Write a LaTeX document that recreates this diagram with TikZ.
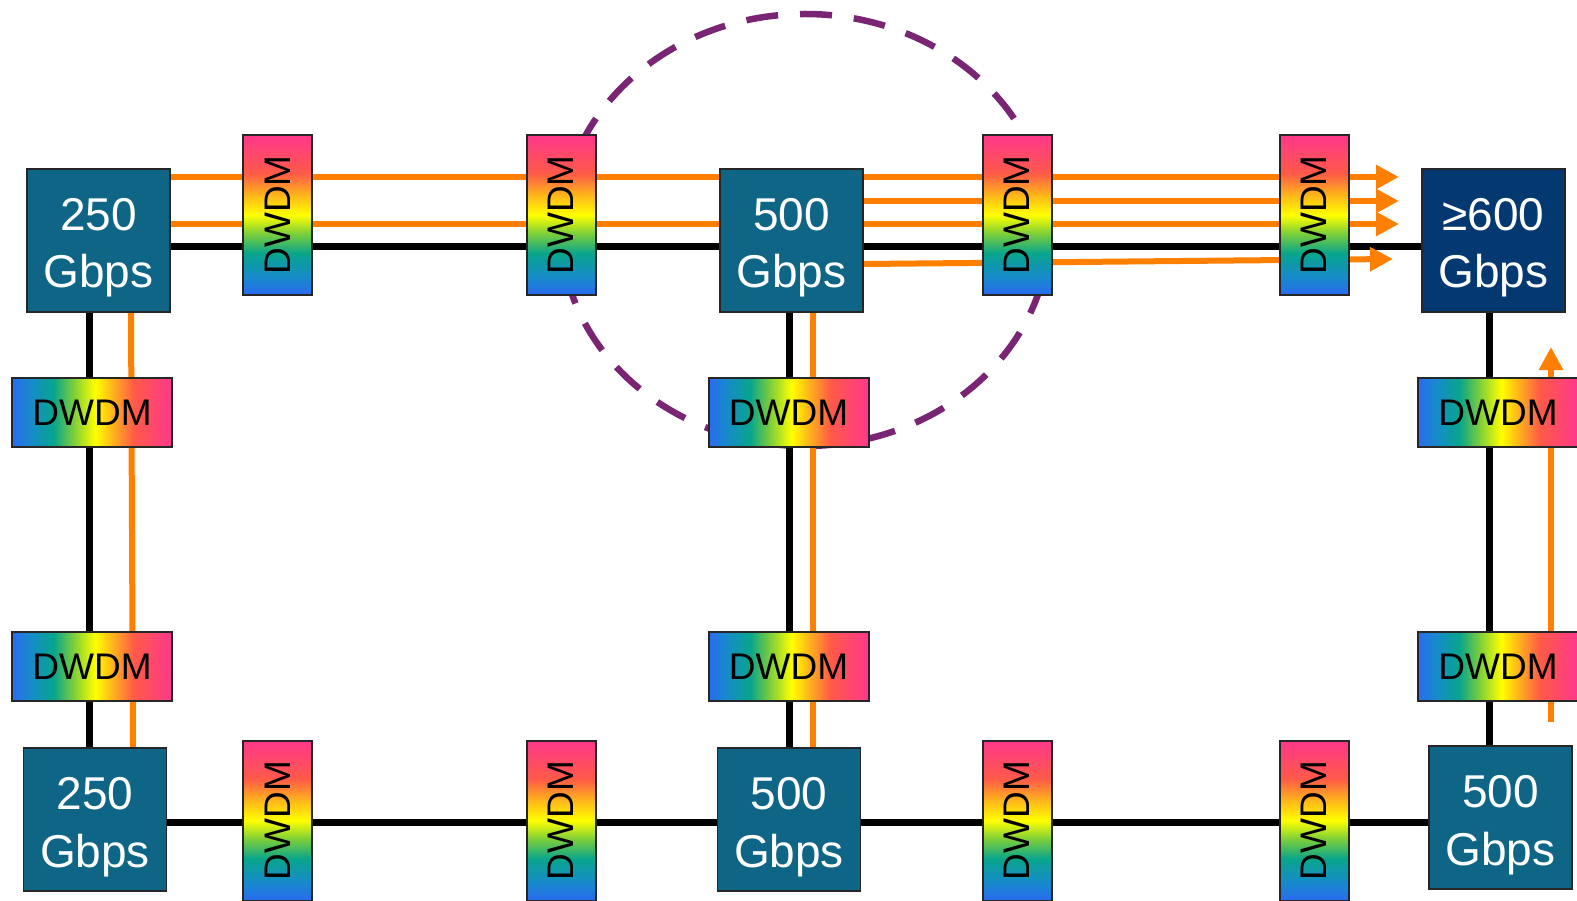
\documentclass[tikz,border=0pt]{standalone}
\usepackage{fontspec}
\setmainfont{Liberation Sans}
\usetikzlibrary{arrows.meta,backgrounds}
\definecolor{rtr}{RGB}{14,101,133}
\definecolor{rtrdark}{RGB}{3,56,112}
\definecolor{orng}{RGB}{255,128,0}
\definecolor{purp}{RGB}{122,37,115}
\definecolor{dblue}{RGB}{42,107,240}
\definecolor{dtb}{RGB}{22,140,200}
\definecolor{dteal}{RGB}{8,165,140}
\definecolor{dgreen}{RGB}{120,205,60}
\definecolor{dyel}{RGB}{255,255,0}
\definecolor{dorange}{RGB}{255,185,25}
\definecolor{dred}{RGB}{255,90,72}
\definecolor{dpink}{RGB}{255,55,140}
\pgfdeclarehorizontalshading{dwdmH}{100bp}{color(0bp)=(dblue); color(25bp)=(dblue); color(31bp)=(dtb); color(38bp)=(dteal); color(44bp)=(dgreen); color(51bp)=(dyel); color(56bp)=(dorange); color(63bp)=(dred); color(75bp)=(dpink); color(100bp)=(dpink)}
\pgfdeclareverticalshading{dwdmV}{100bp}{color(0bp)=(dblue); color(25bp)=(dblue); color(31bp)=(dtb); color(38bp)=(dteal); color(44bp)=(dgreen); color(50bp)=(dyel); color(56bp)=(dorange); color(63bp)=(dred); color(75bp)=(dpink); color(100bp)=(dpink)}
\tikzset{
  router/.style={draw=black!85, line width=1.6pt, fill=rtr, text=white,
    minimum width=143pt, minimum height=143pt, inner sep=0pt,
    text height=100pt, text depth=5pt, font=\fontsize{46}{58}\selectfont},
  dwdm/.style={draw=black!85, line width=2pt, shading=dwdmH,
    minimum width=160pt, minimum height=69pt, inner sep=0pt,
    font=\fontsize{37}{44}\selectfont},
  dwdmv/.style={dwdm, shading=dwdmV, rotate=90},
  wire/.style={line width=7pt, black},
  fib/.style={line width=6pt, orng},
  fibarrow/.style={fib, -{Triangle[length=23pt,width=23pt]}},
  ring/.style={purp, line width=6.5pt, dash pattern=on 32pt off 22pt},
}
\newcommand{\rtext}[2]{\begin{tabular}[b]{@{}c@{}}#1\\#2\end{tabular}}
\begin{document}
\begin{tikzpicture}[x=1pt,y=-1pt]
\useasboundingbox (0,0) rectangle (1577,901);
% routers
\node[router] (TL) at (98.5,240.5) {\rtext{250}{Gbps}};
\node[router] (TM) at (791.5,240.5) {\rtext{500}{Gbps}};
\node[router,fill=rtrdark] (TR) at (1493.5,240.5) {\rtext{≥600}{Gbps}};
\node[router] (BL) at (95,819.5) {\rtext{250}{Gbps}};
\node[router] (BM) at (789,819.5) {\rtext{500}{Gbps}};
\node[router] (BR) at (1500.5,817.5) {\rtext{500}{Gbps}};
% horizontal DWDM boxes (vertical links)
\node[dwdm] (L1) at (92,412.5) {DWDM};
\node[dwdm] (L2) at (92,666.5) {DWDM};
\node[dwdm] (M1) at (788.5,412.5) {DWDM};
\node[dwdm] (M2) at (788.5,666.5) {DWDM};
\node[dwdm] (R1) at (1498,412.5) {DWDM};
\node[dwdm] (R2) at (1498,666.5) {DWDM};
% vertical DWDM boxes (horizontal links)
\node[dwdmv] (T1) at (277.5,215) {DWDM};
\node[dwdmv] (T2) at (561,215) {DWDM};
\node[dwdmv] (T3) at (1017,215) {DWDM};
\node[dwdmv] (T4) at (1314,215) {DWDM};
\node[dwdmv] (B1) at (277.5,820.5) {DWDM};
\node[dwdmv] (B2) at (561,820.5) {DWDM};
\node[dwdmv] (B3) at (1017,820.5) {DWDM};
\node[dwdmv] (B4) at (1314,820.5) {DWDM};
% free ends
\coordinate (a1) at (1399,177);
\coordinate (a2) at (1399,224);
\coordinate (a3) at (1399,201);
\coordinate (a4) at (1393,259);
\coordinate (r0) at (1551,722);
\coordinate (r1) at (1551,347);
\coordinate (ringc) at (805,230);
\begin{pgfonlayer}{background}
  \draw[ring] (ringc) ellipse [x radius=244, y radius=216];
  % black links
  \draw[wire] ([yshift=-6.5pt]TL.east) -- ([yshift=-6.5pt]TR.west);
  \draw[wire] ([xshift=-9.5pt]TL.south) -- ([xshift=-6pt]BL.north);
  \draw[wire] ([xshift=-2.5pt]TM.south) -- (BM.north);
  \draw[wire] ([xshift=-4.5pt]TR.south) -- ([xshift=-11.5pt]BR.north);
  \draw[wire] ([yshift=-2.5pt]BL.east) -- ([yshift=-4.5pt]BR.west);
  % orange flows
  \draw[fibarrow] ([yshift=63.5pt]TL.east) -- (a1);
  \draw[fibarrow] ([yshift=16.5pt]TL.east) -- (a2);
  \draw[fibarrow] ([yshift=39.5pt]TM.east) -- (a3);
  \draw[fibarrow] ([yshift=-23.5pt]TM.east) -- (a4);
  \draw[fib] ([xshift=32.5pt]TL.south) -- ([xshift=38pt]BL.north);
  \draw[fib] ([xshift=21.5pt]TM.south) -- ([xshift=24pt]BM.north);
  \draw[fibarrow] (r0) -- (r1);
\end{pgfonlayer}
\end{tikzpicture}
\end{document}
